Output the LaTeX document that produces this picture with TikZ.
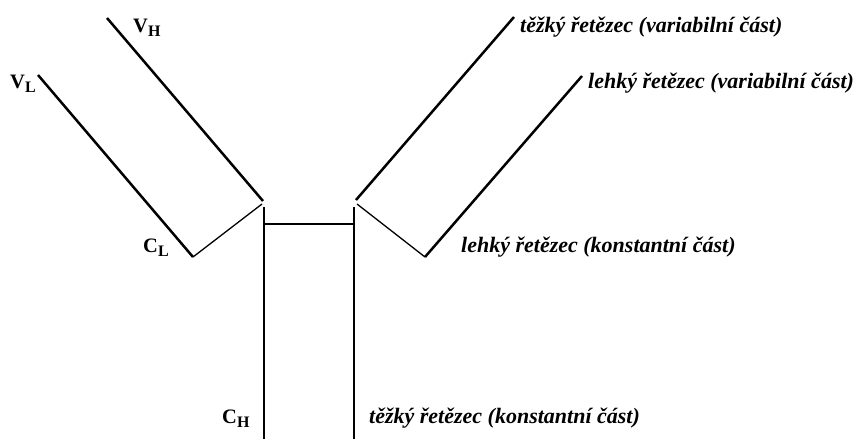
\documentclass[tikz,border=0pt]{standalone}
\usepackage{fontspec}
\setmainfont{Liberation Serif}
\newcommand{\chainlbl}[2]{#1\raisebox{-0.22em}{\fontsize{16}{16}\selectfont #2}}
\begin{document}
\begin{tikzpicture}[x={(1pt,0)}, y={(0,-1pt)}]
    \tikzstyle{chain} = [line width=2.5pt];
    \tikzstyle{link} = [line width=1.3pt];
    \tikzstyle{dom} = [anchor=base west, inner sep=0pt, font=\fontsize{20.5}{22}\selectfont\bfseries];
    \tikzstyle{part} = [anchor=base west, inner sep=0pt, font=\fontsize{22}{24}\selectfont\bfseries\itshape];
    \useasboundingbox (0,0) rectangle (859,439);
    % left arm
    \coordinate (vh) at (107,18);
    \coordinate (hl) at (263,201);
    \coordinate (vl) at (38,75);
    \coordinate (cl) at (193,257);
    \coordinate (ll) at (262,204);
    % stem
    \coordinate (lt) at (264,207);
    \coordinate (lb) at (264,439);
    \coordinate (rt) at (354,207);
    \coordinate (rb) at (354,439);
    \coordinate (bl) at (264,224);
    \coordinate (br) at (354,224);
    % right arm
    \coordinate (rh) at (356,200);
    \coordinate (vhr) at (514,17);
    \coordinate (rl) at (357,204);
    \coordinate (clr) at (425,257);
    \coordinate (vlr) at (582,76);
    \foreach \a/\b in {vh/hl, vl/cl, lt/lb, rt/rb, rh/vhr, clr/vlr}
    {\draw[chain] (\a) -- (\b);}
    \foreach \a/\b in {cl/ll, bl/br, rl/clr}
    {\draw[link] (\a) -- (\b);}
    % labels
    \node[dom] (lvh) at (133,32) {\chainlbl{V}{H}};
    \node[dom] (lvl) at (10,88) {\chainlbl{V}{L}};
    \node[dom] (lcl) at (143,252) {\chainlbl{C}{L}};
    \node[dom] (lch) at (222,423) {\chainlbl{C}{H}};
    \node[part] (tvh) at (520,32) {těžký řetězec (variabilní část)};
    \node[part] (tvl) at (588,88) {lehký řetězec (variabilní část)};
    \node[part] (tcl) at (461,252) {lehký řetězec (konstantní část)};
    \node[part] (tch) at (369,423) {těžký řetězec (konstantní část)};
\end{tikzpicture}
\end{document}
